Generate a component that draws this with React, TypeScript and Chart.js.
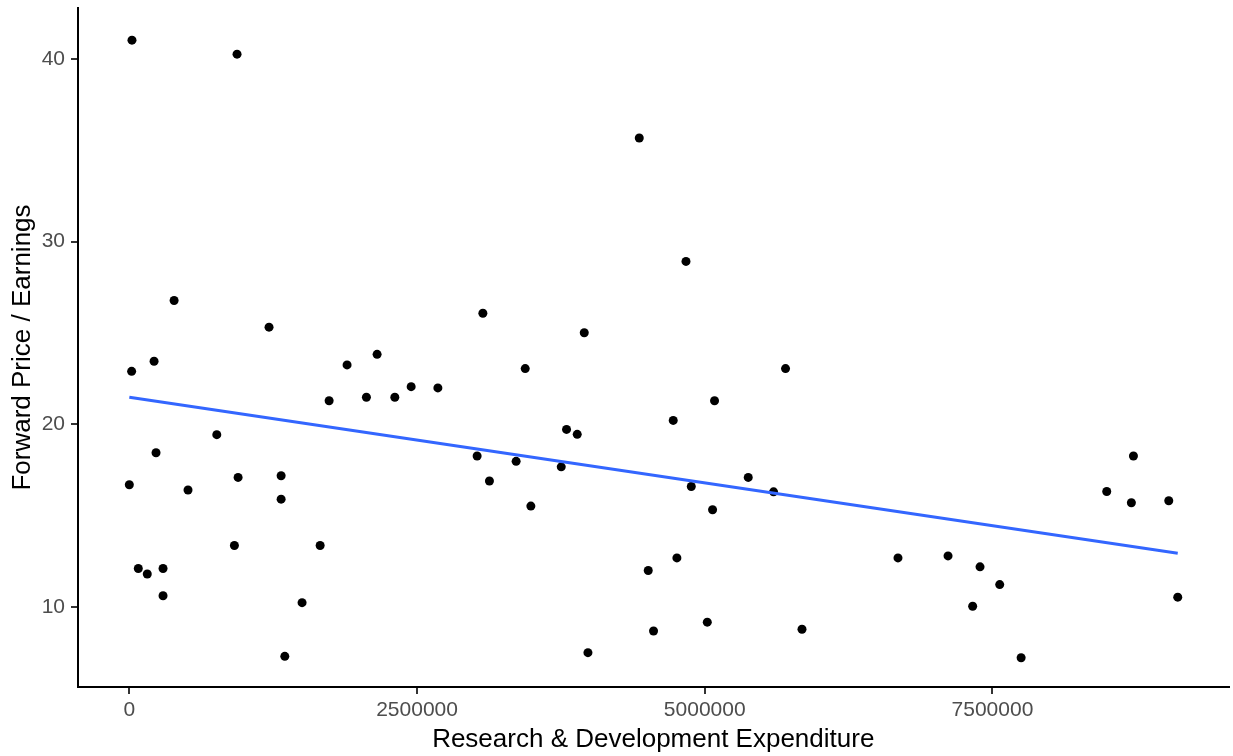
import React, { useEffect, useRef } from "react";
import { Chart, registerables } from "chart.js";

Chart.register(...registerables);

const rdExpenditure: number[] = [
  23000, 936000, 20000, 215000, 389000, 1214000, 1892000, 2153000,
  0, 78000, 156000, 293000, 293000, 232000, 510000, 760000,
  945000, 913000, 1319000, 1319000, 1351000, 1501000, 1658000, 1736000,
  2060000, 2307000, 2449000, 4431000, 4837000, 3072000, 3953000, 3440000,
  5702000, 2681000, 3022000, 3129000, 3361000, 3489000, 3753000, 3799000,
  3892000, 3985000, 4509000, 4555000, 4726000, 4758000, 4883000, 5022000,
  5068000, 5085000, 5378000, 5598000, 5845000, 6679000, 7114000, 7392000,
  7563000, 7328000, 7749000, 8493000, 8725000, 8707000, 9032000, 9110000,
];

const forwardPE: number[] = [
  41.04, 40.27, 22.9, 23.45, 26.78, 25.32, 23.25, 23.83,
  16.69, 12.1, 11.8, 12.1, 10.61, 18.44, 16.4, 19.43,
  17.09, 13.36, 17.18, 15.9, 7.29, 10.23, 13.36, 21.29,
  21.48, 21.48, 22.06, 35.68, 28.92, 26.08, 25.01, 23.05,
  23.05, 21.99, 18.26, 16.89, 17.97, 15.52, 17.67, 19.72,
  19.45, 7.49, 11.99, 8.68, 20.21, 12.68, 16.59, 9.16,
  15.32, 21.29, 17.09, 16.3, 8.77, 12.68, 12.79, 12.19,
  11.22, 10.03, 7.21, 16.32, 18.26, 15.7, 15.81, 10.53,
];

const trendX: number[] = [0, 9110000];
const trendY: number[] = [21.48, 12.93];

const xTicks: number[] = [0, 2500000, 5000000, 7500000];
const yTicks: number[] = [10, 20, 30, 40];

const xTitle = "Research & Development Expenditure";
const yTitle = "Forward Price / Earnings";

const FONT = "'Liberation Sans', Arial, sans-serif";

export default function App() {
  const ref = useRef<HTMLCanvasElement | null>(null);

  useEffect(() => {
    if (!ref.current) return;
    const chart = new Chart(ref.current, {
      type: "scatter",
      data: {
        datasets: [
          {
            label: "smooth",
            type: "line",
            data: trendX.map((x, i) => ({ x, y: trendY[i] })),
            borderColor: "#3366FF",
            borderWidth: 3,
            pointRadius: 0,
            fill: false,
            tension: 0,
            order: 0,
          } as any,
          {
            label: "points",
            data: rdExpenditure.map((x, i) => ({ x, y: forwardPE[i] })),
            backgroundColor: "#000000",
            borderWidth: 0,
            pointRadius: 4.5,
            order: 1,
          },
        ],
      },
      options: {
        responsive: false,
        maintainAspectRatio: false,
        animation: false,
        layout: { padding: { left: 0, top: 8, right: 4, bottom: 0 } },
        plugins: {
          legend: { display: false },
          tooltip: { enabled: false },
        },
        scales: {
          x: {
            type: "linear",
            min: -446000,
            max: 9551000,
            afterBuildTicks: (s: any) => {
              s.ticks = xTicks.map((v) => ({ value: v }));
            },
            afterFit: (s: any) => {
              s.height = 69;
              s.paddingLeft = 0;
              s.paddingRight = 0;
            },
            ticks: {
              callback: (v: any) => String(v),
              color: "#4D4D4D",
              font: { family: FONT, size: 21 },
              padding: 4,
              maxRotation: 0,
              autoSkip: false,
            },
            grid: {
              drawOnChartArea: false,
              drawTicks: true,
              tickLength: 7,
              color: "#333333",
              lineWidth: 2,
            },
            border: { display: true, color: "#000000", width: 2 },
            title: {
              display: true,
              text: xTitle,
              color: "#000000",
              font: { family: FONT, size: 26 },
              padding: { top: 0, bottom: 1 },
            },
          },
          y: {
            type: "linear",
            min: 5.61,
            max: 42.8,
            afterBuildTicks: (s: any) => {
              s.ticks = yTicks.map((v) => ({ value: v }));
            },
            afterFit: (s: any) => {
              s.width = 78;
              s.paddingTop = 0;
              s.paddingBottom = 0;
            },
            ticks: {
              callback: (v: any) => String(v),
              color: "#4D4D4D",
              font: { family: FONT, size: 21 },
              padding: 6,
              autoSkip: false,
            },
            grid: {
              drawOnChartArea: false,
              drawTicks: true,
              tickLength: 7,
              color: "#333333",
              lineWidth: 2,
            },
            border: { display: true, color: "#000000", width: 2 },
            title: {
              display: true,
              text: yTitle,
              color: "#000000",
              font: { family: FONT, size: 26 },
              padding: { top: 7, bottom: 0 },
            },
          },
        },
      },
    });
    return () => chart.destroy();
  }, []);

  return (
    <div
      style={{
        position: "absolute",
        left: 0,
        top: 0,
        width: 1233,
        height: 756,
        background: "#ffffff",
      }}
    >
      <canvas ref={ref} width={1233} height={756} style={{ display: "block" }} />
    </div>
  );
}
